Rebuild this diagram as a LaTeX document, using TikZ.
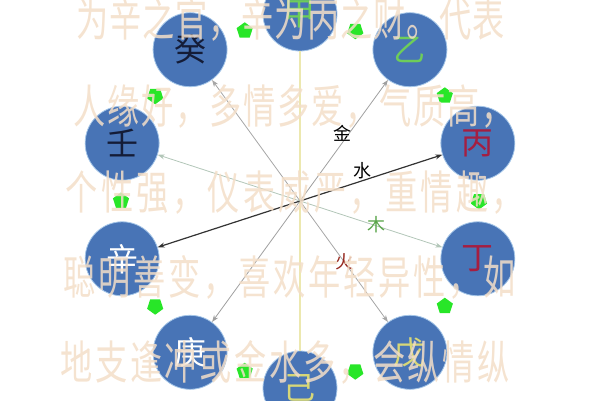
\documentclass[tikz,border=0pt]{standalone}
\usepackage{fontspec}
\usepackage{xcolor}
\usepackage{tikz}
\usetikzlibrary{shapes.geometric, arrows.meta}

\newfontfamily\cjk{Noto Sans CJK SC}

\definecolor{stemblue}{RGB}{72,116,182}
\definecolor{stemrim}{RGB}{165,198,232}
\definecolor{woodgreen}{RGB}{110,205,90}
\definecolor{firered}{RGB}{165,30,65}
\definecolor{earthyellow}{RGB}{215,215,120}
\definecolor{waterdark}{RGB}{20,28,55}
\definecolor{hintgreen}{RGB}{40,230,40}
\definecolor{peach}{RGB}{243,222,200}
\definecolor{palegold}{RGB}{236,232,175}
\definecolor{mossline}{RGB}{178,198,184}
\definecolor{firebrown}{RGB}{150,40,30}

\begin{document}
\begin{tikzpicture}[x=1pt, y=1pt,
    stem/.style={circle, fill=stemblue, draw=stemrim, line width=0.8pt,
        minimum size=74pt, inner sep=0pt, font=\cjk\fontsize{32}{32}\selectfont},
    hint/.style={regular polygon, regular polygon sides=5, fill=hintgreen,
        minimum size=17pt, inner sep=0pt},
    elem/.style={inner sep=0pt, font=\cjk\fontsize{18}{18}\selectfont},
    wmark/.style={inner sep=0pt, text=peach, opacity=0.85,
        text height=38pt, text depth=6pt, font=\cjk\fontsize{46}{46}\selectfont},
    >={Stealth[length=7pt, width=5pt]}]
    \useasboundingbox (-300, -199) rectangle (300, 201);

    % ten stems round the ring
    \foreach \name/\ch/\col [count=\i] in {jia/甲/woodgreen, yi/乙/woodgreen,
        bing/丙/firered, ding/丁/firered, wu/戊/earthyellow, ji/己/earthyellow,
        geng/庚/white, xin/辛/white, ren/壬/waterdark, gui/癸/waterdark}
        \node [stem, text=\col] (\name) at ({126-36*\i}:187) {\ch};

    % green marks between neighbours
    \foreach \i in {1,...,10}
        \node [hint, rotate={-36*\i-72}] (g\i) at ({108-36*\i}:179) {};

    % the five pairs
    \draw [palegold, line width=1.5pt] (jia) -- (ji);
    \draw [gray!75, line width=0.8pt, <->] (yi) -- (geng);
    \draw [black!80, line width=1.2pt, <->] (bing) -- (xin);
    \draw [mossline, line width=0.8pt, <->] (ding) -- (ren);
    \draw [gray!70, line width=0.8pt, <->] (wu) -- (gui);

    \node [elem] (jin) at (43, 68) {金};
    \node [elem] (shui) at (63, 30) {水};
    \node [elem, text=woodgreen!80!black] (mu) at (77, -24) {木};
    \node [elem, text=firebrown] (huo) at (45, -61) {火};

    % text laid over the picture
    \foreach \row/\y/\x/\dx [count=\r] in {
        {为,辛,之,官,，,辛,为,丙,之,财,。,代,表}/181/-207/33,
        {人,缘,好,，,多,情,多,爱,，,气,质,高,，}/94/-210/34,
        {个,性,强,，,仪,表,威,严,，,重,情,趣,，}/8/-218/35.5,
        {聪,明,善,变,，,喜,欢,年,轻,异,性,，,如}/-77/-220/35,
        {地,支,逢,冲,或,金,水,多,，,会,纵,情,纵}/-162/-223/34.7}
        \foreach \c [count=\k from 0] in \row
            \node [wmark] (w\r-\k) at (\x+\k*\dx, \y) {\scalebox{0.7}[1]{\c}};
\end{tikzpicture}
\end{document}
